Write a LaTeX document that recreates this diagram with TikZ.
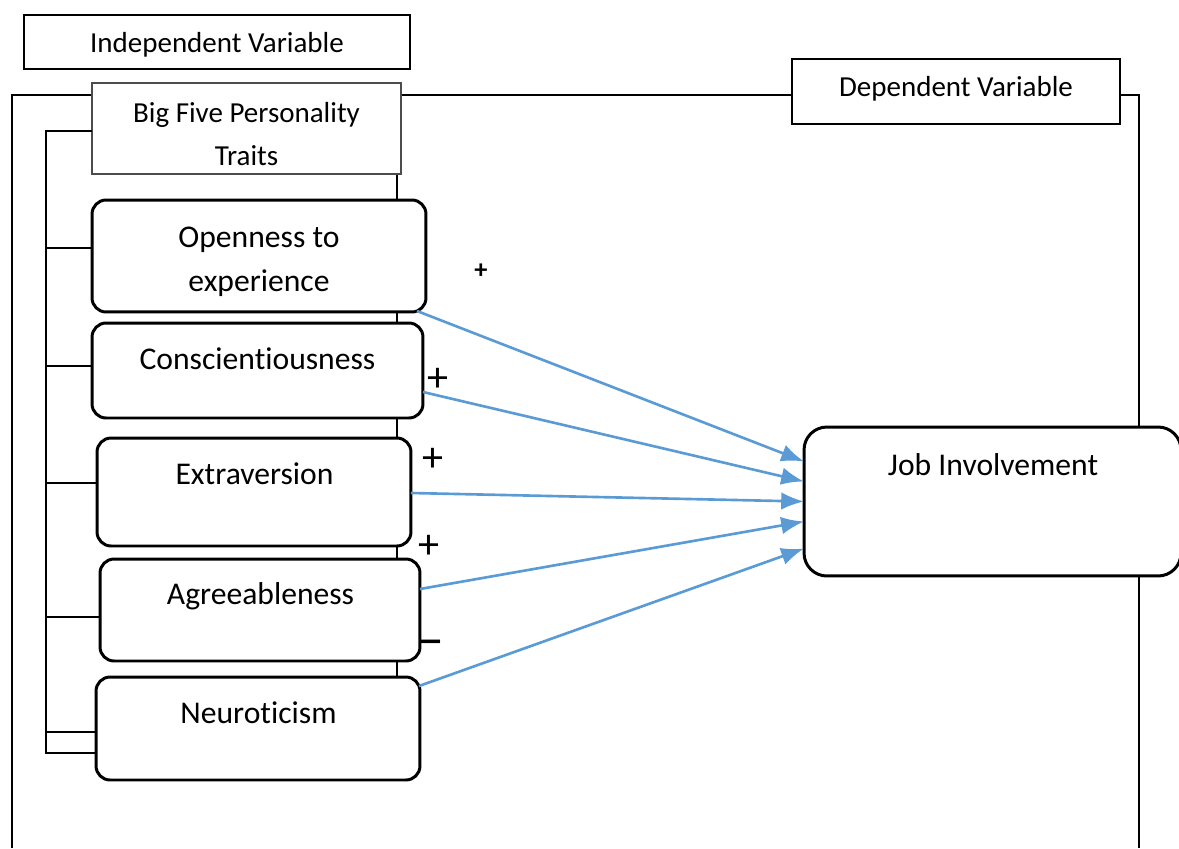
\documentclass[tikz,border=0pt]{standalone}
\usepackage{fontspec}
\setmainfont{Carlito}[Ligatures=NoCommon]
\usetikzlibrary{arrows.meta,calc,backgrounds}
\tikzset{>={Latex[length=13pt,width=10pt]}}
\definecolor{pathblue}{HTML}{5B9BD5}
\tikzset{
  trait/.style={draw,fill=white,line width=1.7pt,rounded corners=8pt,inner sep=0pt,outer sep=0pt},
  header/.style={draw,fill=white,line width=1.3pt,inner sep=0pt,outer sep=0pt},
  txt/.style={inner sep=0pt,font=\fontsize{18}{25}\selectfont,align=center},
  htxt/.style={inner sep=0pt,font=\fontsize{16.5}{24}\selectfont,align=center},
  sign/.style={inner sep=0pt,font=\fontsize{24}{24}\selectfont}
}

\begin{document}
\begin{tikzpicture}[x=0.02cm,y=-0.02cm]
\useasboundingbox (0,0) rectangle (1179,848);

\begin{scope}[every node/.style={header}]
\node (IV) at (217,42) [minimum width=7.72cm,minimum height=1.08cm] {};
\node (BF) at (246.5,128.5) [line width=0.9pt,draw=black!70,minimum width=6.18cm,minimum height=1.82cm] {};
\node (DV) at (956,91.5) [minimum width=6.56cm,minimum height=1.3cm] {};
\end{scope}

\begin{scope}[every node/.style={trait}]
\node (OE) at (259,256) [minimum width=6.68cm,minimum height=2.24cm] {};
\node (CO) at (257.5,370.5) [minimum width=6.62cm,minimum height=1.9cm] {};
\node (EX) at (254,492) [minimum width=6.28cm,minimum height=2.16cm] {};
\node (AG) at (260,610) [minimum width=6.4cm,minimum height=2.04cm] {};
\node (NE) at (258,728.5) [minimum width=6.48cm,minimum height=2.06cm] {};
\node (JI) at (992.5,501.5) [rounded corners=13pt,minimum width=7.54cm,minimum height=2.98cm] {};
\end{scope}

% texts
\node[htxt,anchor=base] (IVt) at (217,53) {Independent Variable};
\node[htxt] (BFt) at (246.5,134) {Big Five Personality\\Traits};
\node[htxt,anchor=base] (DVt) at (956,96) {Dependent Variable};
\node[txt] (OEt) at (259,262) {Openness to\\experience};
\node[txt,anchor=base] (COt) at (257.5,369) {Conscientiousness};
\node[txt,anchor=base] (EXt) at (254.5,484) {Extraversion};
\node[txt,anchor=base] (AGt) at (260.5,604) {Agreeableness};
\node[txt,anchor=base] (NEt) at (258.5,723) {Neuroticism};
\node[txt,anchor=base] (JIt) at (993,475) {Job Involvement};

% frame and spines
\coordinate (LS) at (46,131);
\coordinate (LB) at (46,753);
\coordinate (RS) at (397,174);
\begin{scope}[on background layer]
\draw[line width=1.2pt] (12,848) -- (12,95) -- (1139,95) -- (1139,848);
\draw[line width=1.2pt] (RS) -- (RS |- NE.north);
\end{scope}
\draw[line width=1.2pt] (BF.west |- LS) -- (LS) -- (LB) -- (LB -| NE.west);
\begin{scope}[line width=0.9pt]
\draw ($(OE.west)+(0,-8)$) coordinate (t1) -- (t1 -| LS);
\draw ($(CO.west)+(0,-4.5)$) coordinate (t2) -- (t2 -| LS);
\draw ($(EX.west)+(0,-9)$) coordinate (t3) -- (t3 -| LS);
\draw ($(AG.west)+(0,7)$) coordinate (t4) -- (t4 -| LS);
\draw ($(NE.west)+(0,3.5)$) coordinate (t5) -- (t5 -| LS);
\end{scope}

% paths
\begin{scope}[every edge/.style={draw=pathblue,line width=1.5pt}]
\path [->] ($(OE.south east)+(-9,-1)$) edge ($(JI.west)+(0,-40)$);
\path [->] ($(CO.east)+(0,21.5)$) edge ($(JI.west)+(0,-20)$);
\path [->] ($(EX.east)+(0,1)$) edge (JI.west);
\path [->] ($(AG.east)+(0,-21)$) edge ($(JI.west)+(0,20)$);
\path [->] ($(NE.north east)+(-1,9)$) edge ($(JI.west)+(0,47)$);
\end{scope}

% signs
\node[inner sep=0pt,font=\fontsize{15}{15}\selectfont\bfseries] (s1) at (481,271) {+};
\node[sign] (s2) at (438,380) {+};
\node[sign] (s3) at (433,460) {+};
\node[sign] (s4) at (429,547) {+};
\node[inner sep=0pt,font=\fontsize{32}{32}\selectfont] (s5) at (430,649) {--};
\end{tikzpicture}
\end{document}
